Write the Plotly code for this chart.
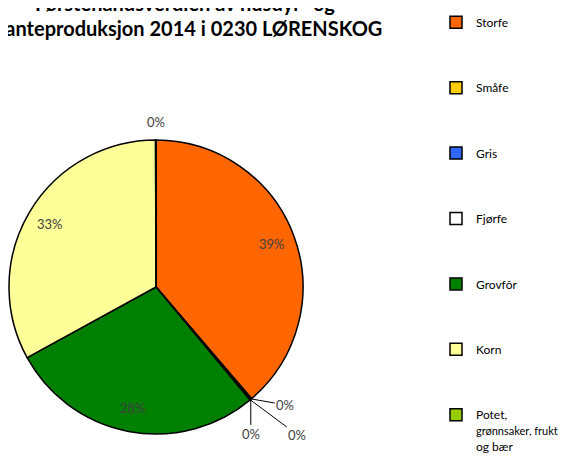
import math
import plotly.graph_objects as go

kategorier = ["Storfe", "Småfe", "Gris", "Fjørfe", "Grovfôr", "Korn",
              "Potet,<br><span style='font-size:11px'>grønnsaker, frukt</span><br>og bær"]
verdier = [38.8, 0.1, 0.05, 0.1, 28.1, 33.0, 0.05]
farger = ["#FF6600", "#FFCC00", "#3366FF", "#FFFFFF", "#008000", "#FFFF99", "#99CC00"]
tittel = ["Førstehåndsverdien av husdyr- og", "planteproduksjon 2014 i 0230 LØRENSKOG"]

W, H = 569, 466
OFF = 8  # the page puts the figure 8px in from the top-left corner
# pie placement in figure pixels (centre and radius)
cx, cy, r = 156 - OFF, 287 - OFF, 147
lab_r = 0.84  # inside labels sit at this fraction of the radius
FONT = "Lato"

# where the labels of the thin slices go, as pixel offsets from the slice edge
utenfor = {1: (34, 6), 2: (0, 35), 3: (47, 35), 6: (0, -18)}

# pad legend labels so the entries are spread down the right side
legend_tekst = []
for k in kategorier[:-1]:
    legend_tekst.append(k + "<br> " * 3)
legend_tekst.append(kategorier[-1])

fig = go.Figure()
fig.add_trace(go.Pie(
    labels=legend_tekst,
    values=verdier,
    sort=False,
    direction="clockwise",
    rotation=0,
    marker=dict(colors=farger, line=dict(color="black", width=1.5)),
    textinfo="none",
    hoverinfo="skip",
    domain=dict(x=[(cx - r) / W, (cx + r) / W], y=[1 - (cy + r) / H, 1 - (cy - r) / H]),
))

# percentage labels, placed from each slice's middle angle
total = sum(verdier)
start = 0.0
for n, v in enumerate(verdier):
    mid = (start + v / 2) / total * 2 * math.pi
    start += v
    tekst = f"{round(v / total * 100)}%"
    lab_font = dict(family=FONT, size=13, color="#404040")
    if n in utenfor:
        ex = cx + r * math.sin(mid)
        ey = cy - r * math.cos(mid)
        dx, dy = utenfor[n]
        fig.add_annotation(
            x=ex / W, y=1 - ey / H, xref="paper", yref="paper",
            ax=dx, ay=dy, text=tekst, font=lab_font,
            showarrow=True, arrowhead=0, arrowwidth=1,
            arrowcolor="#000000" if dy > 0 else "rgba(0,0,0,0)",
        )
    else:
        px = cx + lab_r * r * math.sin(mid)
        py = cy - lab_r * r * math.cos(mid)
        fig.add_annotation(
            x=px / W, y=1 - py / H, xref="paper", yref="paper",
            xanchor="center", yanchor="middle",
            text=tekst, showarrow=False, font=lab_font,
        )

# two title lines, baselines ~28px apart
for linje, bunn in zip(tittel, [9, 34]):
    fig.add_annotation(
        text=linje, x=177 / W, y=1 - bunn / H, xref="paper", yref="paper",
        xanchor="center", yanchor="bottom", showarrow=False,
        font=dict(family=FONT, size=20, color="black", weight="bold"),
    )

fig.update_layout(
    width=W, height=H,
    margin=dict(l=0, r=0, t=0, b=0, autoexpand=False),
    paper_bgcolor="white",
    plot_bgcolor="white",
    legend=dict(
        x=428 / W, y=1, xanchor="left", yanchor="top",
        valign="top",
        font=dict(family=FONT, size=12, color="black"),
        bgcolor="rgba(0,0,0,0)",
    ),
)

fig.write_html("out.html")
